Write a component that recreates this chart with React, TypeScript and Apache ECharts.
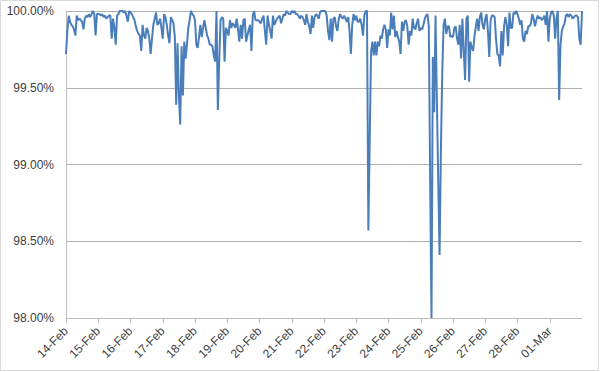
import React, { useEffect, useRef } from "react";
import * as echarts from "echarts";

// Tick labels, one per day (the axis ends one day after the last label)
const dayLabels = [
  "14-Feb", "15-Feb", "16-Feb", "17-Feb", "18-Feb", "19-Feb", "20-Feb", "21-Feb",
  "22-Feb", "23-Feb", "24-Feb", "25-Feb", "26-Feb", "27-Feb", "28-Feb", "01-Mar",
];

const hoursPerDay = 24;

// Hourly availability (%), one row per day
const day0 = [99.72, 99.87, 99.97, 99.93, 99.91, 99.90, 99.88, 99.84, 99.97, 99.94, 99.95, 99.94, 99.93, 99.88, 99.95, 99.97, 99.96, 99.98, 99.96, 99.98, 100.00, 99.98, 99.84, 99.98];
const day1 = [99.98, 99.98, 99.97, 99.98, 99.96, 99.97, 99.95, 99.96, 99.97, 99.97, 99.82, 99.95, 99.89, 99.78, 99.97, 99.98, 100.00, 100.00, 100.00, 99.99, 100.00, 99.97, 99.93, 100.00];
const day2 = [99.99, 99.98, 99.96, 99.94, 99.90, 99.87, 99.85, 99.84, 99.74, 99.91, 99.84, 99.82, 99.89, 99.87, 99.82, 99.72, 99.82, 99.91, 99.95, 99.99, 99.91, 99.92, 99.95, 99.89];
const day3 = [99.82, 99.98, 99.96, 99.91, 99.84, 99.79, 99.96, 99.94, 99.92, 99.83, 99.39, 99.79, 99.45, 99.26, 99.77, 99.45, 99.80, 99.69, 99.78, 99.89, 99.94, 100.00, 99.98, 99.97];
const day4 = [99.94, 99.78, 99.76, 99.83, 99.91, 99.83, 99.89, 99.94, 99.89, 99.84, 99.82, 99.78, 99.78, 99.77, 99.71, 99.67, 100.00, 99.355, 99.67, 99.94, 99.96, 99.95, 99.67, 99.89];
const day5 = [99.87, 99.84, 99.94, 99.89, 99.92, 99.91, 99.89, 99.95, 99.88, 99.80, 99.91, 99.82, 99.94, 99.95, 99.80, 99.84, 99.88, 99.91, 99.74, 99.97, 100.00, 99.94, 99.94, 99.94];
const day6 = [99.93, 99.92, 99.95, 99.97, 99.87, 99.78, 99.97, 99.91, 99.87, 99.82, 99.97, 99.91, 99.93, 99.95, 99.96, 99.97, 99.92, 99.95, 99.98, 99.97, 100.00, 99.99, 99.98, 99.98];
const day7 = [100.00, 99.99, 100.00, 99.98, 99.98, 99.97, 99.95, 99.97, 99.96, 99.94, 99.91, 99.98, 99.93, 99.90, 99.85, 99.97, 99.89, 99.96, 99.98, 99.97, 99.95, 99.99, 100.00, 100.00];
const day8 = [100.00, 100.00, 99.97, 99.87, 99.81, 99.95, 99.80, 99.95, 99.96, 99.90, 99.87, 99.95, 99.98, 99.96, 99.95, 99.97, 99.95, 99.93, 99.96, 99.87, 99.72, 99.91, 99.98, 99.94];
const day9 = [99.97, 99.93, 99.93, 99.95, 99.91, 99.84, 99.97, 100.00, 100.00, 98.57, 99.15, 99.73, 99.80, 99.71, 99.80, 99.71, 99.80, 99.77, 99.84, 99.82, 99.88, 99.91, 99.88, 99.76];
const day10 = [99.88, 99.84, 99.99, 99.88, 99.97, 99.83, 99.87, 99.83, 99.80, 99.72, 99.93, 99.87, 99.93, 99.94, 99.90, 99.78, 99.87, 99.84, 99.95, 99.89, 99.88, 99.92, 99.95, 99.87];
const day11 = [99.89, 99.88, 99.91, 99.95, 99.97, 99.98, 99.90, 98.90, 98.00, 99.70, 99.34, 99.97, 99.42, 98.90, 98.41, 99.10, 99.60, 99.91, 99.95, 99.85, 99.90, 99.90, 99.83, 99.84];
const day12 = [99.83, 99.89, 99.90, 99.82, 99.78, 99.91, 99.69, 99.95, 99.74, 99.55, 99.95, 99.97, 99.54, 99.80, 99.76, 99.74, 99.84, 99.90, 99.95, 99.87, 99.96, 99.99, 99.91, 99.88];
const day13 = [99.95, 99.98, 99.87, 99.70, 99.94, 99.97, 99.97, 99.96, 99.82, 99.72, 99.71, 99.64, 99.87, 99.71, 99.90, 99.96, 99.91, 99.77, 99.99, 99.89, 99.89, 99.99, 99.98, 100.00];
const day14 = [99.98, 99.95, 99.91, 99.94, 99.82, 99.80, 99.87, 99.85, 99.90, 99.90, 99.92, 99.98, 99.95, 99.90, 99.94, 99.97, 99.95, 99.96, 99.94, 99.95, 99.97, 99.91, 100.00, 99.80];
const day15 = [99.95, 99.99, 100.00, 99.97, 99.82, 99.95, 100.00, 99.42, 99.78, 99.87, 99.90, 99.92, 99.97, 99.98, 99.96, 99.98, 99.97, 99.95, 99.96, 99.97, 99.97, 99.96, 99.82, 99.78];
const finalValue = [100.00];

const hourly = [
  ...day0, ...day1, ...day2, ...day3, ...day4, ...day5, ...day6, ...day7,
  ...day8, ...day9, ...day10, ...day11, ...day12, ...day13, ...day14, ...day15,
  ...finalValue,
];

const yMin = 98;
const yMax = 100;
const yStep = 0.5;

export default function App() {
  const ref = useRef<HTMLDivElement>(null);

  useEffect(() => {
    if (!ref.current) return;
    const chart = echarts.init(ref.current, undefined, { renderer: "svg" });
    const font = "'Liberation Sans', Arial, sans-serif";
    const totalHours = dayLabels.length * hoursPerDay;
    chart.setOption({
      animation: false,
      backgroundColor: "#ffffff",
      graphic: [
        {
          type: "rect",
          shape: { x: 0.5, y: 0.5, width: 598, height: 370 },
          style: { fill: "none", stroke: "#d9d9d9", lineWidth: 1 },
          silent: true,
        },
      ],
      grid: { left: 66, right: 18, top: 11, bottom: 54, containLabel: false },
      xAxis: {
        type: "value",
        min: 0,
        max: totalHours,
        interval: hoursPerDay,
        axisLine: { show: true, lineStyle: { color: "#bfbfbf", width: 1 } },
        axisTick: { show: true, length: 5, lineStyle: { color: "#bfbfbf" } },
        splitLine: { show: false },
        axisLabel: {
          rotate: 45,
          margin: 11,
          fontSize: 12,
          fontFamily: font,
          color: "#404040",
          showMaxLabel: false,
          formatter: (v: number) => {
            const i = Math.round(v / hoursPerDay);
            return dayLabels[i] ?? "";
          },
        },
      },
      yAxis: {
        type: "value",
        min: yMin,
        max: yMax,
        interval: yStep,
        axisLine: { show: true, lineStyle: { color: "#bfbfbf", width: 1 } },
        axisTick: { show: false },
        splitLine: { show: true, lineStyle: { color: "#b0b0b0", width: 1 } },
        axisLabel: {
          margin: 12,
          fontSize: 12,
          fontFamily: font,
          color: "#404040",
          formatter: (v: number) => v.toFixed(2) + "%",
        },
      },
      series: [
        {
          type: "line",
          data: hourly.map((v, i) => [i, v]),
          showSymbol: false,
          symbol: "none",
          clip: false,
          lineStyle: { color: "#4A7EBB", width: 2 },
          emphasis: { disabled: true },
        },
      ],
    });
    return () => chart.dispose();
  }, []);

  return (
    <div
      ref={ref}
      style={{ position: "fixed", left: 0, top: 0, width: 600, height: 372 }}
    />
  );
}
